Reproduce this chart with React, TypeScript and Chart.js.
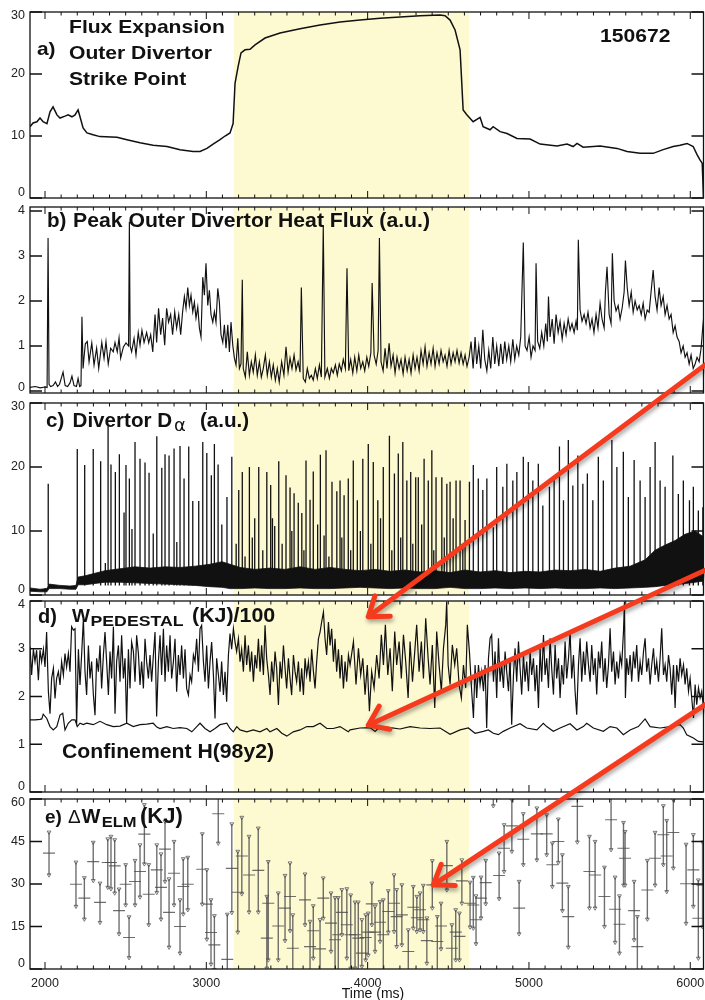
import React, { useEffect, useRef } from 'react';
import { Chart, registerables } from 'chart.js';

Chart.register(...registerables);

const FONT = '"Liberation Sans", Arial, Helvetica, sans-serif';

// ---------------- data ----------------
const timeTicks = [2000, 3000, 4000, 5000, 6000];
const fluxTicks = [0, 10, 20, 30];
const heatTicks = [0, 1, 2, 3, 4];
const dAlphaTicks = [0, 10, 20, 30];
const wTicks = [0, 1, 2, 3, 4];
const elmTicks = [0, 15, 30, 45, 60];
const highlightWindow = [3172, 4629];

// a) flux expansion [time ms, value]
const fluxExpansion: [number, number][] = [[1907,11.5],[1926,12.1],[1950,12.3],[1969,12.9],[1988,12.3],[2012,12.0],[2031,13.9],[2050,14.7],[2074,13.4],[2093,12.9],[2124,13.2],[2143,13.4],[2167,13.1],[2186,13.4],[2205,14.2],[2217,13.1],[2236,11.3],[2260,10.5],[2298,10.2],[2341,9.9],[2446,9.8],[2508,9.4],[2589,8.9],[2670,8.5],[2756,8.3],[2837,7.8],[2918,7.5],[2961,7.5],[3004,8.0],[3042,8.7],[3085,9.4],[3116,10.0],[3147,10.5],[3166,12.0],[3178,18.5],[3197,21.2],[3215,23.4],[3240,23.9],[3271,24.0],[3302,24.7],[3364,25.8],[3457,26.6],[3581,27.3],[3705,27.9],[3829,28.4],[3953,28.7],[4077,29.0],[4201,29.2],[4325,29.4],[4449,29.5],[4480,29.4],[4511,28.7],[4542,27.1],[4573,23.9],[4592,14.2],[4616,13.4],[4654,12.3],[4697,13.0],[4716,11.5],[4759,11.0],[4778,11.5],[4821,10.7],[4864,10.4],[4926,9.6],[5007,9.5],[5069,8.7],[5174,8.4],[5236,8.7],[5274,8.3],[5298,8.8],[5336,8.2],[5441,8.4],[5546,8.0],[5608,7.5],[5689,7.2],[5770,7.2],[5832,7.8],[5894,8.3],[5937,8.5],[5980,8.8],[6018,8.3],[6042,7.0],[6061,6.1],[6074,5.6],[6082,0]];

// b) peak outer divertor heat flux
const heatFlux: [number, number][] = [[1907,0.08],[1940,0.1],[1970,0.07],[2000,0.09],[2013,0.08],[2019,3.4],[2025,0.15],[2035,0.1],[2050,0.12],[2065,0.2],[2078,0.1],[2090,0.15],[2112,0.42],[2125,0.12],[2140,0.1],[2155,0.18],[2167,0.33],[2180,0.12],[2195,0.1],[2205,0.28],[2215,0.1],[2223,0.12],[2229,1.65],[2236,0.5],[2242,0.75],[2250,1.05],[2262,1.1],[2273,0.65],[2290,1.07],[2304,0.58],[2320,0.95],[2333,0.5],[2352,1.08],[2366,0.73],[2378,1.1],[2392,0.6],[2407,0.95],[2423,0.87],[2434,1.08],[2448,0.87],[2459,1.18],[2469,0.73],[2486,0.98],[2502,1.07],[2518,1.0],[2523,3.76],[2528,1.0],[2537,0.87],[2552,1.17],[2564,0.8],[2578,1.3],[2589,1.02],[2601,1.35],[2614,1.08],[2630,1.3],[2643,1.07],[2655,1.25],[2668,0.87],[2682,1.7],[2692,1.08],[2704,1.84],[2717,1.25],[2729,1.62],[2742,1.02],[2754,1.84],[2766,1.53],[2779,1.7],[2791,1.25],[2804,1.76],[2816,1.4],[2829,1.7],[2841,1.25],[2853,1.76],[2864,2.1],[2874,1.84],[2885,2.3],[2895,1.9],[2905,2.13],[2916,1.76],[2926,1.97],[2936,1.62],[2947,1.87],[2957,1.4],[2967,1.2],[2978,2.53],[2988,2.13],[2998,2.84],[3009,1.9],[3019,2.24],[3029,1.7],[3040,1.53],[3050,1.76],[3060,1.53],[3071,2.28],[3081,1.97],[3091,1.25],[3102,1.08],[3112,1.47],[3122,0.95],[3133,1.47],[3143,0.87],[3153,1.53],[3164,1.02],[3174,0.73],[3184,0.58],[3195,1.17],[3205,0.5],[3215,0.6],[3223,2.47],[3229,0.5],[3242,0.31],[3254,0.87],[3267,0.35],[3279,0.65],[3291,0.42],[3304,0.8],[3316,0.35],[3329,0.65],[3341,0.31],[3353,0.5],[3366,0.8],[3378,0.35],[3391,0.65],[3403,0.31],[3415,0.58],[3428,0.24],[3440,0.5],[3452,0.2],[3467,0.65],[3481,0.35],[3494,0.98],[3507,0.42],[3519,0.73],[3531,0.5],[3544,0.8],[3556,0.47],[3569,0.65],[3581,0.42],[3589,2.3],[3601,0.28],[3614,0.2],[3626,0.5],[3639,0.28],[3651,0.35],[3663,0.24],[3676,0.5],[3688,0.28],[3701,0.58],[3713,0.31],[3725,3.68],[3735,0.31],[3750,0.5],[3763,0.28],[3775,0.5],[3787,0.4],[3800,0.58],[3812,0.35],[3824,0.6],[3837,0.45],[3849,0.7],[3862,0.5],[3872,2.73],[3883,0.45],[3895,0.7],[3908,0.4],[3920,0.75],[3933,0.45],[3945,0.8],[3957,0.5],[3970,0.65],[3982,0.45],[3995,0.75],[4007,0.55],[4020,0.85],[4028,2.4],[4040,0.8],[4053,0.6],[4065,0.9],[4073,3.4],[4083,0.65],[4096,0.45],[4108,0.95],[4120,0.5],[4133,1.06],[4145,0.55],[4158,0.8],[4170,0.4],[4182,0.75],[4195,0.5],[4207,0.7],[4220,0.38],[4232,0.75],[4245,0.45],[4257,0.7],[4269,0.4],[4282,0.8],[4294,0.5],[4306,0.75],[4319,0.45],[4331,0.9],[4344,0.6],[4356,0.98],[4368,0.55],[4381,0.85],[4393,0.6],[4406,0.95],[4418,0.55],[4430,0.85],[4443,0.6],[4455,0.9],[4468,0.65],[4480,0.8],[4492,0.55],[4505,0.9],[4517,0.6],[4530,0.85],[4542,0.65],[4554,0.9],[4567,0.62],[4579,0.85],[4592,0.6],[4604,0.8],[4616,0.55],[4629,0.75],[4641,1.1],[4654,0.5],[4666,1.2],[4676,0.6],[4689,1.0],[4701,0.5],[4714,1.36],[4726,0.7],[4739,0.45],[4751,0.9],[4763,0.5],[4776,1.2],[4788,0.6],[4800,1.0],[4813,0.55],[4825,1.05],[4838,0.6],[4850,1.1],[4862,0.7],[4875,1.0],[4887,0.65],[4900,1.15],[4912,0.7],[4924,1.0],[4937,0.8],[4949,1.2],[4965,3.3],[4976,1.0],[4988,0.9],[5001,1.2],[5013,0.75],[5025,1.0],[5038,0.9],[5044,2.84],[5054,1.1],[5067,0.95],[5079,1.3],[5092,1.0],[5104,1.5],[5114,1.1],[5121,2.1],[5131,1.2],[5144,1.6],[5156,1.05],[5168,1.7],[5181,1.3],[5193,1.55],[5206,1.15],[5218,1.5],[5230,1.25],[5243,1.6],[5255,1.35],[5267,1.5],[5280,1.3],[5292,1.55],[5300,1.35],[5306,3.36],[5317,1.8],[5329,1.55],[5342,1.7],[5354,1.5],[5366,1.75],[5379,1.4],[5391,1.6],[5403,1.3],[5416,1.7],[5428,1.4],[5441,1.95],[5453,1.6],[5466,1.4],[5474,2.2],[5484,2.76],[5497,1.7],[5509,1.5],[5517,3.06],[5528,2.0],[5540,1.78],[5553,1.9],[5565,1.6],[5578,1.85],[5590,2.2],[5598,2.9],[5609,2.3],[5621,1.9],[5634,2.2],[5646,1.75],[5658,2.0],[5671,1.8],[5683,1.9],[5696,1.7],[5708,1.95],[5720,1.6],[5733,1.8],[5745,1.75],[5757,2.2],[5770,2.69],[5782,2.1],[5794,1.8],[5807,2.3],[5819,1.9],[5832,2.1],[5844,1.7],[5856,1.9],[5869,1.6],[5881,1.7],[5894,1.3],[5906,1.45],[5918,1.2],[5931,1.1],[5943,0.85],[5956,1.0],[5968,0.75],[5980,0.85],[5993,0.6],[6005,0.8],[6018,0.5],[6030,0.6],[6042,0.75],[6055,0.65],[6067,0.95],[6077,1.4],[6086,1.75]];

// c) divertor D-alpha: inter-ELM baseline envelope and ELM peaks
const dAlphaLow: [number, number][] = [[1907,0.6],[1969,0.5],[2012,0.5],[2025,1.0],[2093,1.0],[2155,0.9],[2192,0.9],[2205,1.6],[2248,1.6],[2310,1.8],[2372,2.0],[2465,2.0],[2558,1.9],[2651,1.8],[2744,1.7],[2837,1.6],[2930,1.5],[3023,1.3],[3097,1.2],[3147,1.0],[3209,1.0],[3302,1.1],[3395,1.0],[3488,1.0],[3581,1.1],[3674,1.0],[3767,1.0],[3860,1.1],[3953,1.2],[4046,1.1],[4139,1.0],[4232,1.1],[4325,1.0],[4418,1.0],[4511,1.2],[4604,1.0],[4697,1.0],[4790,1.1],[4883,1.0],[4976,1.1],[5069,1.0],[5162,1.1],[5255,1.0],[5348,1.0],[5441,1.1],[5534,1.0],[5627,1.1],[5720,1.2],[5782,1.3],[5844,1.5],[5906,1.6],[5968,1.8],[6030,2.0],[6086,2.2]];
const dAlphaHigh: [number, number][] = [[1907,1.1],[1969,0.9],[2012,1.0],[2025,1.7],[2093,1.5],[2155,1.4],[2192,1.5],[2205,2.8],[2248,3.0],[2310,3.4],[2372,3.8],[2465,4.1],[2558,4.4],[2651,4.2],[2744,4.4],[2837,4.3],[2930,4.5],[3023,4.8],[3097,5.2],[3147,4.8],[3209,4.3],[3302,4.0],[3395,4.2],[3488,4.0],[3581,4.4],[3674,4.0],[3767,4.3],[3860,4.0],[3953,3.8],[4046,4.0],[4139,3.7],[4232,3.9],[4325,3.6],[4418,3.8],[4511,3.5],[4604,3.9],[4697,3.6],[4790,3.8],[4883,3.5],[4976,3.7],[5069,3.6],[5162,3.9],[5255,3.8],[5348,4.0],[5441,3.7],[5534,4.2],[5627,4.5],[5720,5.5],[5782,7.0],[5844,7.8],[5906,8.5],[5968,9.5],[6030,10.0],[6086,9.0]];
const dAlphaSpikeBase = 1.5;
const dAlphaSpikes: [number, number][] = [[2020,17.4],[2200,22.8],[2246,20.3],[2299,22.8],[2345,20.9],[2374,5],[2391,26.5],[2409,20.4],[2436,19.2],[2461,22],[2490,12.9],[2502,20.3],[2523,18.2],[2539,10.3],[2558,23.9],[2589,21.3],[2620,20.7],[2645,19.1],[2671,9.6],[2693,24.8],[2724,19.9],[2744,22],[2769,21.8],[2800,22.9],[2817,8.3],[2837,23.3],[2862,18.2],[2891,23.2],[2916,14.7],[2953,14.7],[2978,23.9],[3003,22.2],[3031,18.7],[3050,23.6],[3073,20.4],[3096,11],[3128,15.3],[3158,21.6],[3185,8],[3201,16.4],[3223,19.2],[3240,6],[3267,20],[3285,9],[3300,12],[3325,20],[3350,7],[3375,19.2],[3399,17.2],[3410,12],[3424,10.8],[3449,20.9],[3470,8],[3494,18.7],[3519,16.8],[3530,10],[3544,15.9],[3570,14.4],[3592,12.8],[3605,7],[3618,21],[3643,14.9],[3663,19.3],[3690,11],[3707,21.9],[3730,9.3],[3742,22.6],[3760,6],[3779,17.7],[3809,16.2],[3829,17.9],[3840,9],[3854,15.6],[3880,18.2],[3895,7],[3911,21],[3936,14.8],[3955,10],[3970,21.3],[4004,23.6],[4020,8],[4035,20.8],[4063,14.8],[4080,12],[4097,20],[4135,24.9],[4150,7],[4166,19],[4190,22.1],[4205,9],[4218,23.9],[4243,17.9],[4267,19.2],[4280,8],[4298,18.4],[4314,18.4],[4335,11],[4350,21.3],[4376,17.9],[4398,22.6],[4410,7],[4424,18.4],[4460,18.4],[4475,9],[4491,17.4],[4511,17.7],[4530,12],[4548,17.9],[4573,17.9],[4590,8],[4604,11.7],[4631,17.7],[4655,20.3],[4686,18.2],[4714,16.4],[4739,18.2],[4779,10.6],[4800,20],[4838,16.9],[4863,20.5],[4900,17.9],[4925,19.2],[4965,21.6],[4996,20.8],[5024,17.9],[5058,20.5],[5086,14],[5127,16.9],[5156,18.4],[5189,23.2],[5214,14.8],[5244,24.2],[5272,17.1],[5303,21.8],[5334,17.4],[5362,19],[5396,14.8],[5430,21.6],[5461,17.9],[5514,24.2],[5545,20],[5585,22.4],[5616,15.3],[5652,21.1],[5689,17.9],[5720,15.3],[5751,20],[5782,23.9],[5813,17.9],[5844,16.9],[5892,21.8],[5926,15.8],[5957,17.9],[5995,14.8],[6019,16.9],[6050,13.2],[6078,13.7]];

// d) pedestal stored energy (kJ/100) and H98y2
const wPedestal: [number, number][] = [[1907,3.04],[1917,2.45],[1928,2.99],[1938,2.73],[1948,2.97],[1959,2.34],[1969,2.97],[1979,2.73],[1990,2.99],[2000,2.62],[2010,3.35],[2021,2.1],[2031,1.64],[2041,2.38],[2052,2.59],[2062,1.96],[2072,2.38],[2083,2.52],[2093,2.24],[2103,2.73],[2114,2.45],[2124,2.9],[2134,2.62],[2145,2.9],[2155,2.52],[2165,3.46],[2176,3.39],[2186,3.42],[2196,1.4],[2207,2.99],[2217,2.24],[2227,2.87],[2238,3.63],[2248,2.52],[2258,2.03],[2269,3.07],[2279,2.38],[2289,2.73],[2300,2.03],[2310,1.61],[2320,2.8],[2331,2.52],[2341,3.07],[2351,2.17],[2362,2.87],[2372,3.35],[2382,2.73],[2393,2.03],[2403,2.94],[2413,2.38],[2424,3.46],[2434,1.64],[2444,2.73],[2455,3.07],[2465,2.31],[2475,3.28],[2486,2.38],[2496,2.8],[2506,1.44],[2517,2.99],[2527,2.17],[2537,3.14],[2548,2.94],[2558,2.31],[2568,3.28],[2579,2.9],[2589,2.24],[2599,2.73],[2610,2.17],[2620,3.21],[2630,2.73],[2641,2.38],[2651,2.87],[2661,2.31],[2672,2.87],[2682,3.35],[2692,1.58],[2703,2.73],[2713,3.28],[2723,2.45],[2734,3.42],[2744,2.31],[2754,3.07],[2765,2.52],[2775,3.28],[2785,2.38],[2796,2.73],[2806,3.21],[2816,2.1],[2827,2.87],[2837,2.45],[2847,3.07],[2858,2.38],[2868,2.99],[2878,2.17],[2889,2.03],[2899,2.45],[2909,2.31],[2920,2.87],[2930,2.73],[2940,3.21],[2951,2.52],[2961,3.42],[2971,3.49],[2982,2.73],[2992,2.31],[3002,3.07],[3013,2.17],[3023,2.73],[3033,3.14],[3044,2.45],[3054,1.54],[3064,2.8],[3075,2.45],[3085,2.1],[3095,2.73],[3106,2.03],[3116,2.52],[3126,1.89],[3137,2.87],[3147,3.32],[3157,2.99],[3168,3.42],[3178,3.14],[3188,2.94],[3199,3.21],[3209,2.73],[3219,2.99],[3230,2.52],[3240,3.28],[3250,2.66],[3261,3.07],[3271,2.52],[3281,2.94],[3292,2.31],[3302,2.87],[3312,2.59],[3323,3.21],[3333,2.52],[3343,3.07],[3354,2.45],[3364,3.49],[3374,2.8],[3385,2.45],[3395,2.03],[3405,2.73],[3416,2.31],[3426,2.94],[3436,2.59],[3447,1.82],[3457,2.73],[3467,2.38],[3478,3.07],[3488,2.59],[3498,2.17],[3509,2.8],[3519,2.38],[3529,2.03],[3540,2.87],[3550,2.52],[3560,2.31],[3571,2.73],[3581,2.1],[3591,2.59],[3602,2.03],[3612,2.8],[3622,2.45],[3633,2.73],[3643,2.31],[3653,2.99],[3664,2.52],[3674,2.17],[3684,2.73],[3695,3.21],[3705,3.35],[3715,3.56],[3726,3.77],[3736,3.21],[3746,2.87],[3757,3.56],[3767,3.07],[3777,3.42],[3788,2.73],[3798,3.21],[3808,2.52],[3819,2.99],[3829,2.38],[3839,2.87],[3850,2.17],[3860,2.73],[3870,2.31],[3881,2.87],[3891,2.66],[3912,3.15],[3928,2.25],[3943,3.01],[3957,2.45],[3970,2.8],[3984,2.04],[3998,2.66],[4011,1.69],[4025,2.52],[4040,2.18],[4056,2.87],[4071,2.38],[4085,3.29],[4098,2.66],[4110,3.5],[4125,2.45],[4139,3.01],[4153,2.11],[4168,3.36],[4180,2.66],[4195,3.15],[4209,2.38],[4222,3.29],[4236,2.73],[4251,1.97],[4263,3.15],[4278,2.31],[4292,2.94],[4304,3.5],[4319,2.52],[4333,3.15],[4346,2.38],[4360,3.64],[4375,2.8],[4387,2.25],[4401,3.08],[4416,1.76],[4428,3.36],[4443,2.66],[4457,2.11],[4470,3.01],[4484,3.5],[4490,3.99],[4499,2.66],[4511,2.25],[4525,3.08],[4540,2.66],[4552,3.01],[4567,2.25],[4581,1.97],[4594,2.66],[4608,2.18],[4618,3.5],[4631,2.94],[4645,2.11],[4656,1.55],[4666,2.66],[4676,1.97],[4687,2.66],[4697,2.25],[4707,2.52],[4718,2.11],[4728,2.66],[4738,1.34],[4749,2.8],[4759,3.22],[4769,3.29],[4780,2.31],[4790,2.94],[4800,1.97],[4811,3.22],[4821,2.31],[4831,2.66],[4842,2.18],[4852,2.94],[4862,2.52],[4873,2.11],[4883,2.8],[4893,1.41],[4904,2.45],[4914,3.01],[4924,2.31],[4935,3.15],[4945,2.59],[4955,2.04],[4966,2.87],[4976,2.31],[4986,2.73],[4997,2.11],[5007,2.94],[5017,2.45],[5028,2.8],[5038,2.11],[5048,2.66],[5059,1.76],[5069,3.01],[5079,2.31],[5090,3.29],[5100,2.45],[5110,2.8],[5121,2.18],[5131,3.22],[5141,2.59],[5152,2.04],[5162,3.08],[5172,2.38],[5183,2.8],[5193,1.97],[5203,2.66],[5214,2.25],[5224,3.15],[5234,2.38],[5245,2.8],[5255,3.36],[5265,2.38],[5276,2.87],[5286,2.11],[5296,1.62],[5307,2.66],[5317,3.22],[5327,2.31],[5338,2.94],[5348,2.45],[5358,3.15],[5369,2.66],[5379,2.31],[5389,3.08],[5400,2.45],[5410,2.8],[5420,2.04],[5431,2.94],[5441,2.59],[5451,3.15],[5462,2.31],[5472,2.8],[5482,2.18],[5493,2.66],[5503,3.43],[5513,2.52],[5524,2.94],[5534,2.25],[5544,2.73],[5555,2.38],[5565,2.87],[5575,2.66],[5586,3.36],[5592,3.99],[5598,1.97],[5606,2.8],[5617,2.45],[5627,2.87],[5637,2.31],[5648,2.94],[5658,2.59],[5668,3.08],[5679,2.31],[5689,2.73],[5699,2.45],[5710,2.94],[5720,3.22],[5730,2.52],[5741,2.8],[5751,2.25],[5761,2.66],[5772,3.01],[5782,2.45],[5792,2.73],[5803,2.31],[5813,2.8],[5823,3.43],[5834,2.45],[5844,2.66],[5854,2.31],[5865,2.87],[5875,2.59],[5885,2.04],[5896,2.66],[5906,1.76],[5916,2.66],[5927,2.31],[5937,2.8],[5947,2.45],[5958,2.66],[5968,2.25],[5978,2.59],[5989,2.11],[5999,2.38],[6009,1.97],[6020,1.55],[6030,2.25],[6040,1.83],[6051,2.18],[6061,1.97],[6071,2.11],[6082,1.76]];
const h98y2: [number, number][] = [[1907,1.51],[1938,1.51],[1969,1.52],[1980,1.53],[1989,1.63],[2011,1.54],[2031,1.37],[2051,1.30],[2073,1.37],[2093,1.61],[2110,1.65],[2124,1.30],[2144,1.44],[2166,1.51],[2186,1.51],[2200,1.37],[2217,1.44],[2237,1.41],[2259,1.44],[2299,1.41],[2341,1.48],[2383,1.41],[2423,1.37],[2465,1.38],[2507,1.44],[2547,1.37],[2589,1.41],[2631,1.42],[2671,1.44],[2693,1.36],[2713,1.33],[2755,1.37],[2795,1.33],[2837,1.35],[2879,1.33],[2910,1.26],[2941,1.37],[2961,1.44],[2992,1.33],[3023,1.26],[3054,1.33],[3085,1.41],[3127,1.44],[3147,1.33],[3167,1.26],[3189,1.37],[3209,1.30],[3251,1.26],[3291,1.30],[3333,1.26],[3375,1.33],[3395,1.26],[3437,1.33],[3468,1.23],[3499,1.17],[3539,1.26],[3581,1.30],[3623,1.37],[3663,1.37],[3705,1.44],[3747,1.33],[3787,1.33],[3829,1.37],[3880,1.26],[3891,1.30],[3953,1.34],[4015,1.35],[4046,1.27],[4077,1.37],[4139,1.35],[4201,1.32],[4263,1.37],[4325,1.34],[4387,1.33],[4449,1.34],[4511,1.21],[4573,1.30],[4624,1.34],[4666,1.23],[4717,1.27],[4748,1.30],[4779,1.23],[4810,1.20],[4841,1.27],[4883,1.34],[4945,1.43],[4986,1.34],[5049,1.30],[5089,1.44],[5110,1.37],[5151,1.27],[5193,1.34],[5255,1.43],[5297,1.30],[5337,1.37],[5358,1.44],[5399,1.34],[5461,1.27],[5503,1.37],[5545,1.34],[5585,1.20],[5627,1.30],[5678,1.37],[5720,1.53],[5751,1.37],[5813,1.34],[5875,1.37],[5937,1.41],[5957,1.34],[5978,1.20],[6019,1.13],[6050,1.06],[6081,1.05]];

// e) ELM energy loss: [time ms, mean kJ, low kJ, high kJ]
const deltaWElm: [number, number, number, number][] = [[2025,40.9,33.2,48.3],[2192,29.9,22.1,37.7],[2244,25.0,17.6,32.2],[2299,37.9,31.2,44.7],[2341,23.5,16.4,30.3],[2389,37.6,28.8,45.9],[2409,37.6,28.3,46.8],[2432,36.4,26.8,45.6],[2459,20.6,12.4,28.2],[2500,29.9,22.6,36.8],[2521,11.1,4.0,18.4],[2558,30.9,22.6,38.3],[2589,34.4,25.4,43.8],[2616,47.6,37.1,58.0],[2643,26.4,15.6,36.8],[2693,35.0,27.0,43.8],[2719,28.8,17.6,40.6],[2744,42.3,30.9,52.1],[2769,20.0,7.7,31.8],[2800,33.8,22.6,45.0],[2837,15.0,5.6,24.4],[2857,29.1,19.4,38.9],[2885,29.9,20.9,39.4],[2975,35.2,22.9,47.7],[3003,22.9,10.5,35.0],[3029,12.9,1.7,24.4],[3050,8.5,-0.2,18.8],[3074,54.8,44.4,63.0],[3130,3.4,-7.0,19.3],[3158,35.5,19.9,51.2],[3195,27.1,13.0,41.5],[3220,39.9,26.5,53.5],[3265,33.2,20.1,46.8],[3322,34.8,20.1,49.7],[3375,10.9,0.3,25.6],[3384,23.2,3.2,37.9],[3446,15.2,3.2,26.8],[3488,21.5,10.0,33.0],[3519,25.6,13.5,37.4],[3536,7.3,-1,19.1],[3612,24.4,15.6,33.5],[3643,7.9,-1,16.8],[3663,13.5,3.8,22.3],[3705,7.1,-1,17.4],[3725,25.0,17.9,32.1],[3773,16.2,6.2,26.8],[3798,10.3,-1,25.2],[3818,12.1,-1,25.2],[3840,20.0,12.1,28.0],[3871,15.6,3.8,28.3],[3895,12.1,0.3,26.1],[3922,12.1,0.3,23.6],[3942,10.9,-1,23.6],[3964,5.6,0.9,17.4],[3988,11.1,3.2,19.1],[4004,13.0,4.9,19.7],[4026,23.0,15.6,30.3],[4046,13.0,6.2,22.1],[4077,16.5,9.7,23.8],[4097,12.1,-1,24.4],[4128,20.3,13.0,27.6],[4164,23.2,13.2,33.2],[4180,18.5,7.9,28.0],[4212,19.1,8.5,29.7],[4252,6.2,-1,13.8],[4283,21.8,14.4,29.1],[4305,18.1,13.2,25.6],[4325,20.9,13.8,26.8],[4345,17.4,13.2,29.5],[4367,10.0,2.0,18.0],[4401,29.7,21.5,38.2],[4432,9.7,-1,18.5],[4455,15.2,7.1,23.2],[4491,36.5,27.9,45.0],[4522,7.3,-1,15.6],[4546,13.0,3.2,20.9],[4569,11.5,3.2,19.7],[4584,31.1,23.2,38.5],[4635,23.2,14.8,30.6],[4655,22.6,14.4,32.3],[4672,17.4,8.9,25.8],[4703,25.0,18.0,32.4],[4732,30.5,23.0,38.3],[4779,63.0,57.6,68.0],[4815,33.0,24.8,40.9],[4846,42.6,34.4,50.9],[4894,50.5,41.5,59.7],[4939,21.5,12.4,30.9],[4965,45.8,36.8,54.8],[5049,47.7,38.5,56.8],[5110,47.7,40.3,54.4],[5145,36.8,29.1,44.4],[5182,45.0,37.6,52.9],[5207,30.3,20.6,40.3],[5244,18.5,7.7,29.1],[5300,57.4,44.8,63.0],[5375,34.4,21.5,46.8],[5410,33.2,21.5,45.0],[5468,25.6,15.0,35.9],[5509,52.7,42.1,63.0],[5534,21.1,9.4,32.4],[5561,15.8,5.6,25.8],[5586,42.6,29.6,51.7],[5596,39.1,29.6,48.5],[5652,20.6,10.3,30.9],[5672,7.9,-3.0,18.5],[5734,27.9,17.6,38.3],[5782,39.1,29.6,48.2],[5833,47.4,36.8,57.6],[5854,39.9,27.3,52.4],[5895,48.2,35.6,59.7],[5974,30.1,16.1,44.0],[6019,35.0,22.1,47.4],[6050,17.9,3.8,31.4],[6076,29.6,14.9,44.8]];

// ---------------- layout / style ----------------
const PLOT_LEFT = 30;
const PLOT_RIGHT = 703.5;
const X_MIN = 1907;
const X_MAX = 6082;

const PANELS = [
  { id: 'yA', top: 12, bottom: 198, min: 0, max: 30, ticks: fluxTicks },
  { id: 'yB', top: 207, bottom: 393, min: -0.044, max: 4.089, ticks: heatTicks },
  { id: 'yC', top: 403, bottom: 595, min: 0, max: 30, ticks: dAlphaTicks },
  { id: 'yD', top: 601, bottom: 792, min: 0, max: 4, ticks: wTicks },
  { id: 'yE', top: 799, bottom: 969, min: 0, max: 60, ticks: elmTicks },
];

type Label = { text: string; x: number; y: number; size: number; bold?: boolean; sx?: number; family?: string; align?: CanvasTextAlign };
const LABELS: Label[] = [
  { text: 'a)', x: 37, y: 55, size: 19, bold: true, sx: 1.1 },
  { text: 'Flux Expansion', x: 69, y: 33, size: 19, bold: true, sx: 1.11 },
  { text: 'Outer Divertor', x: 69, y: 59, size: 19, bold: true, sx: 1.11 },
  { text: 'Strike Point', x: 69, y: 85, size: 19, bold: true, sx: 1.11 },
  { text: '150672', x: 600, y: 42, size: 19, bold: true, sx: 1.11 },
  { text: 'b)', x: 47, y: 227, size: 20, bold: true, sx: 1.03 },
  { text: 'Peak Outer Divertor Heat Flux (a.u.)', x: 73, y: 227, size: 20, bold: true, sx: 1.06 },
  { text: 'c)', x: 46, y: 427, size: 20, bold: true, sx: 1.03 },
  { text: 'Divertor D', x: 72.5, y: 427, size: 20, bold: true, sx: 1.03 },
  { text: 'α', x: 174, y: 431, size: 18, family: '"DejaVu Sans", sans-serif' },
  { text: '(a.u.)', x: 200, y: 427, size: 20, bold: true, sx: 1.03 },
  { text: 'd)', x: 38, y: 623, size: 20, bold: true },
  { text: 'W', x: 72, y: 622, size: 19, bold: true },
  { text: 'PEDESTAL', x: 90.5, y: 626, size: 15, bold: true, sx: 1.18 },
  { text: '(KJ)/100', x: 192, y: 622, size: 20, bold: true, sx: 1.07 },
  { text: 'Confinement H(98y2)', x: 62, y: 758, size: 20, bold: true, sx: 1.06 },
  { text: 'e)', x: 45, y: 823, size: 19, bold: true },
  { text: 'Δ', x: 68, y: 823, size: 19 },
  { text: 'W', x: 81.5, y: 823, size: 20, bold: true },
  { text: 'ELM', x: 101.7, y: 826.5, size: 15, bold: true, sx: 1.1 },
  { text: '(KJ)', x: 140, y: 823, size: 22, bold: true },
  { text: 'Time (ms)', x: 373, y: 998, size: 14, align: 'center' },
];

const ARROWS = [
  { from: { axis: 'yB', t: 6092, v: 0.58 }, to: { axis: 'yD', t: 4004, v: 3.67 } },
  { from: { axis: 'yC', t: 6092, v: 3.86 }, to: { axis: 'yD', t: 4004, v: 1.4 } },
  { from: { axis: 'yD', t: 6092, v: 1.83 }, to: { axis: 'yE', t: 4407, v: 29.7 } },
];

const panelPlugin = {
  id: 'stackedPanels',
  afterLayout(chart: any) {
    const x = chart.scales.x;
    x.left = PLOT_LEFT; x.right = PLOT_RIGHT; x.width = PLOT_RIGHT - PLOT_LEFT;
    x.top = PANELS[4].bottom; x.bottom = chart.height; x.height = x.bottom - x.top;
    x.configure();
    PANELS.forEach((p) => {
      const s = chart.scales[p.id];
      s.left = 0; s.right = PLOT_LEFT; s.width = PLOT_LEFT;
      s.top = p.top; s.bottom = p.bottom; s.height = p.bottom - p.top;
      s.configure();
    });
    chart.chartArea = {
      left: PLOT_LEFT, right: PLOT_RIGHT, top: PANELS[0].top, bottom: PANELS[4].bottom,
      width: PLOT_RIGHT - PLOT_LEFT, height: PANELS[4].bottom - PANELS[0].top,
    };
  },
  beforeDatasetsDraw(chart: any) {
    const ctx = chart.ctx;
    const x = chart.scales.x;
    const x0 = x.getPixelForValue(highlightWindow[0]);
    const x1 = x.getPixelForValue(highlightWindow[1]);
    ctx.save();
    ctx.fillStyle = '#fdf9d0';
    PANELS.forEach((p) => ctx.fillRect(x0, p.top, x1 - x0, p.bottom - p.top));
    ctx.restore();
  },
  afterDatasetsDraw(chart: any) {
    const ctx = chart.ctx;
    const x = chart.scales.x;
    ctx.save();
    ctx.strokeStyle = '#111';
    PANELS.forEach((p) => {
      const s = chart.scales[p.id];
      ctx.lineWidth = 1.3;
      ctx.strokeRect(PLOT_LEFT, p.top, PLOT_RIGHT - PLOT_LEFT, p.bottom - p.top);
      ctx.beginPath();
      p.ticks.forEach((v: number) => {
        const y = s.getPixelForValue(v);
        ctx.moveTo(PLOT_LEFT, y); ctx.lineTo(PLOT_LEFT + 12, y);
        ctx.moveTo(PLOT_RIGHT, y); ctx.lineTo(PLOT_RIGHT - 12, y);
      });
      ctx.stroke();
      ctx.lineWidth = 1;
      ctx.beginPath();
      for (let t = 2000; t <= 6000; t += 100) {
        const px = x.getPixelForValue(t);
        const len = t % 1000 === 0 ? 7 : 3.5;
        ctx.moveTo(px, p.top); ctx.lineTo(px, p.top + len);
        ctx.moveTo(px, p.bottom); ctx.lineTo(px, p.bottom - len);
      }
      ctx.stroke();
      // y tick labels, kept inside the panel's vertical extent
      ctx.font = `12.5px ${FONT}`;
      ctx.fillStyle = '#222';
      ctx.textAlign = 'right';
      ctx.textBaseline = 'middle';
      p.ticks.forEach((v: number) => {
        const y = Math.min(Math.max(s.getPixelForValue(v), p.top + 4), p.bottom - 5);
        ctx.fillText(String(v), PLOT_LEFT - 5, y);
      });
    });
    ctx.fillStyle = '#111';
    LABELS.forEach((l) => {
      ctx.save();
      ctx.font = `${l.bold ? 'bold ' : ''}${l.size}px ${l.family ?? FONT}`;
      ctx.textAlign = l.align ?? 'left';
      ctx.textBaseline = 'alphabetic';
      ctx.translate(l.x, l.y);
      ctx.scale(l.sx ?? 1, 1);
      ctx.fillText(l.text, 0, 0);
      ctx.restore();
    });
    ctx.restore();
  },
  afterDraw(chart: any) {
    const ctx = chart.ctx;
    const pt = (e: any) => ({ x: chart.scales.x.getPixelForValue(e.t), y: chart.scales[e.axis].getPixelForValue(e.v) });
    ARROWS.forEach((a) => {
      const p0 = pt(a.from);
      const p1 = pt(a.to);
      const ang = Math.atan2(p0.y - p1.y, p0.x - p1.x);
      const L = 22;
      const spread = 0.62;
      ctx.save();
      ctx.strokeStyle = '#f53a1d';
      ctx.lineWidth = 5;
      ctx.lineCap = 'round';
      ctx.lineJoin = 'round';
      ctx.shadowColor = 'rgba(0,0,0,0.35)';
      ctx.shadowBlur = 4;
      ctx.shadowOffsetX = 1;
      ctx.shadowOffsetY = 3;
      ctx.beginPath();
      ctx.moveTo(p0.x, p0.y);
      ctx.lineTo(p1.x, p1.y);
      ctx.moveTo(p1.x + L * Math.cos(ang + spread), p1.y + L * Math.sin(ang + spread));
      ctx.lineTo(p1.x, p1.y);
      ctx.lineTo(p1.x + L * Math.cos(ang - spread), p1.y + L * Math.sin(ang - spread));
      ctx.stroke();
      ctx.restore();
    });
  },
};

const xy = (pairs: [number, number][]) => pairs.map(([x, y]) => ({ x, y }));

const lineDs = (label: string, data: any[], yAxisID: string, width = 1.2, color = '#111') => ({
  type: 'line' as const,
  label,
  data,
  xAxisID: 'x',
  yAxisID,
  borderColor: color,
  borderWidth: width,
  pointRadius: 0,
  tension: 0,
  fill: false,
});

const yScale = (p: any) => ({
  type: 'linear',
  position: 'left',
  stack: 'panels',
  min: p.min,
  max: p.max,
  grid: { display: false, drawTicks: false },
  border: { display: false },
  ticks: { display: false },
  afterBuildTicks: (s: any) => { s.ticks = p.ticks.map((v: number) => ({ value: v })); },
});

export default function App() {
  const ref = useRef<HTMLCanvasElement>(null);
  useEffect(() => {
    if (!ref.current) return;
    const spikeData = dAlphaSpikes.flatMap(([t, peak]) => [
      { x: t, y: dAlphaSpikeBase }, { x: t, y: peak }, { x: t, y: null },
    ]);
    const barData = deltaWElm.flatMap(([t, , lo, hi]) => [{ x: t, y: lo }, { x: t, y: hi }, { x: t, y: null }]);
    const capData = deltaWElm.flatMap(([t, , lo, hi]) => [{ x: t, y: lo }, { x: t, y: hi }]);
    const meanData = deltaWElm.map(([t, m]) => ({ x: t, y: m }));
    const grey = 'rgba(75,75,75,0.8)';

    const scales: any = {
      x: {
        type: 'linear', position: 'bottom', min: X_MIN, max: X_MAX,
        grid: { display: false, drawTicks: false }, border: { display: false },
        ticks: { font: { size: 12.5, family: FONT }, color: '#222', padding: 7, autoSkip: false, maxRotation: 0, minRotation: 0, callback: (v: any) => String(v) },
        afterBuildTicks: (s: any) => { s.ticks = timeTicks.map((v) => ({ value: v })); },
      },
    };
    PANELS.forEach((p) => { scales[p.id] = yScale(p); });

    const chart = new Chart(ref.current, {
      type: 'line',
      data: {
        datasets: [
          lineDs('Flux expansion', xy(fluxExpansion), 'yA', 1.5),
          lineDs('Peak outer divertor heat flux', xy(heatFlux), 'yB', 1.15),
          lineDs('D-alpha baseline low', xy(dAlphaLow), 'yC', 0.8),
          { ...lineDs('D-alpha baseline high', xy(dAlphaHigh), 'yC', 0.8), fill: '-1', backgroundColor: '#111' },
          lineDs('D-alpha ELM peaks', spikeData, 'yC', 1.3),
          lineDs('W pedestal', xy(wPedestal), 'yD', 1.2),
          lineDs('H98y2', xy(h98y2), 'yD', 1.2),
          lineDs('dW ELM range', barData, 'yE', 1.4, grey),
          {
            type: 'scatter', label: 'dW ELM caps', data: capData, xAxisID: 'x', yAxisID: 'yE',
            pointStyle: 'triangle', rotation: 180, pointRadius: 2.2, borderWidth: 0.9,
            borderColor: grey, backgroundColor: '#ffffff', showLine: false,
          },
          {
            type: 'scatter', label: 'dW ELM', data: meanData, xAxisID: 'x', yAxisID: 'yE',
            pointStyle: 'line', pointRadius: 6, borderWidth: 1.1, borderColor: grey, showLine: false,
          },
        ] as any,
      },
      options: {
        responsive: false,
        animation: false,
        events: [],
        layout: { padding: 0 },
        plugins: { legend: { display: false }, tooltip: { enabled: false }, title: { display: false } },
        scales,
      } as any,
      plugins: [panelPlugin as any],
    });
    return () => chart.destroy();
  }, []);

  return (
    <div style={{ position: 'absolute', left: 0, top: 0, width: 705, height: 1000, background: '#ffffff', overflow: 'hidden' }}>
      <canvas ref={ref} width={705} height={1000} style={{ display: 'block' }} />
    </div>
  );
}
